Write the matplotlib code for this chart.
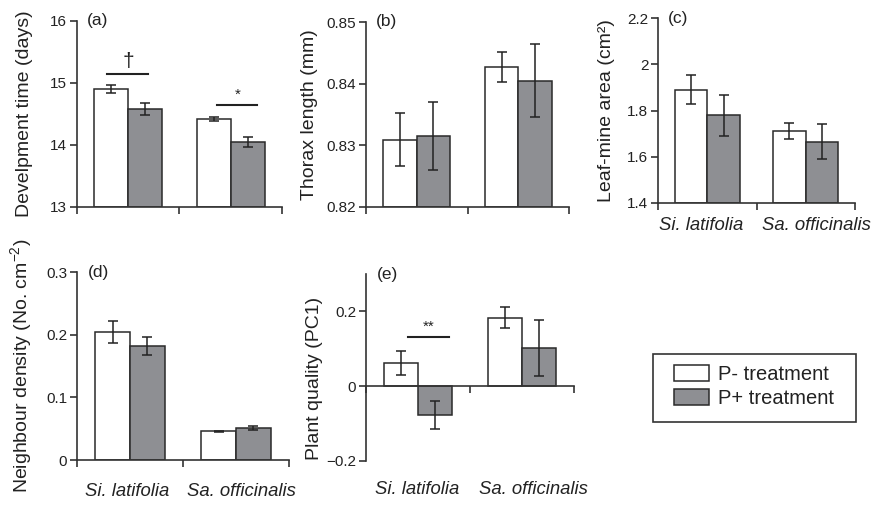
import matplotlib
matplotlib.use("Agg")
import matplotlib.pyplot as plt
import matplotlib.transforms as mtransforms
from matplotlib.patches import Patch, Rectangle

plt.rcParams['font.family'] = ['Liberation Sans', 'DejaVu Sans']
plt.rcParams['mathtext.fontset'] = 'custom'
plt.rcParams['mathtext.rm'] = 'Liberation Sans'
plt.rcParams['mathtext.it'] = 'Liberation Sans:italic'

# ---- data ----
species = ["Si. latifolia", "Sa. officinalis"]
treatments = ["P- treatment", "P+ treatment"]

dev_pminus = [14.90, 14.42]
dev_pminus_err = [0.06, 0.03]
dev_pplus = [14.58, 14.05]
dev_pplus_err = [0.09, 0.08]

thorax_pminus = [0.8309, 0.8427]
thorax_pminus_err = [0.0043, 0.0024]
thorax_pplus = [0.8315, 0.8405]
thorax_pplus_err = [0.0055, 0.0059]

mine_pminus = [1.89, 1.71]
mine_pminus_err = [0.062, 0.035]
mine_pplus = [1.78, 1.665]
mine_pplus_err = [0.089, 0.075]

dens_pminus = [0.204, 0.046]
dens_pminus_err = [0.018, 0.001]
dens_pplus = [0.182, 0.051]
dens_pplus_err = [0.015, 0.003]

qual_pminus = [0.061, 0.183]
qual_pminus_err = [0.032, 0.0285]
qual_pplus = [-0.077, 0.102]
qual_pplus_err = [0.037, 0.076]

ticks_a = [13, 14, 15, 16]
ticks_b = [0.82, 0.83, 0.84, 0.85]
ticklabels_b = ["0.82", "0.83", "0.84", "0.85"]
ticks_c = [1.4, 1.6, 1.8, 2.0, 2.2]
ticklabels_c = ["1.4", "1.6", "1.8", "2", "2.2"]
ticks_d = [0, 0.1, 0.2, 0.3]
ticklabels_d = ["0", "0.1", "0.2", "0.3"]
ticks_e = [-0.2, 0, 0.2]
ticklabels_e = ["\u22120.2", "0", "0.2"]

W, H = 874, 505
fig = plt.figure(figsize=(W / 100, H / 100), dpi=100)

TXT = "#222222"
WHITE = "#ffffff"
GRAY = "#8e8f93"
EDGE = "#2a2a2a"

def add_ax(l, r, t, b):
    return fig.add_axes([l / W, 1 - b / H, (r - l) / W, (b - t) / H])

def style(ax, ylim, ticks, ticklabels, ylabel, label_right_px, left_px, width_px, panel, ylab_y=0.5):
    ax.set_xlim(0, 2)
    ax.set_ylim(*ylim)
    for s in ["top", "right"]:
        ax.spines[s].set_visible(False)
    for s in ["left", "bottom"]:
        ax.spines[s].set_linewidth(1.2)
        ax.spines[s].set_color("#333333")
    ax.set_xticks([0, 1, 2])
    ax.set_xticklabels([])
    ax.set_yticks(ticks)
    ax.set_yticklabels(ticklabels)
    ax.tick_params(axis="both", direction="out", length=5, width=1.2, color="#333333",
                   labelsize=11, labelcolor=TXT, pad=2)
    ax.set_ylabel(ylabel, fontsize=14, color=TXT)
    ax.yaxis.set_label_coords((label_right_px - left_px) / width_px, ylab_y)
    ax.text(0.05, 1.0, panel, transform=ax.transAxes, fontsize=12.5, color=TXT,
            ha="left", va="center")

def bars(ax, pm, pme, pp, ppe, base=0):
    x = [0.5, 1.5]
    w = 0.33
    kw = dict(ecolor="#222222", capsize=3.6, error_kw=dict(elinewidth=1.1, capthick=1.1),
              edgecolor=EDGE, linewidth=1.1, bottom=base)
    ax.bar([xi - w / 2 for xi in x], [v - base for v in pm], w, yerr=pme, color=WHITE, **kw)
    ax.bar([xi + w / 2 for xi in x], [v - base for v in pp], w, yerr=ppe, color=GRAY, **kw)

def cat_labels(ax, y_px, xs):
    tr = mtransforms.blended_transform_factory(ax.transData, fig.transFigure)
    for xi, name in zip(xs, species):
        ax.text(xi, 1 - y_px / H, name, transform=tr, fontsize=13.3, style="italic",
                color=TXT, ha="center", va="center")

# (a)
ax = add_ax(77, 282, 21, 207)
bars(ax, dev_pminus, dev_pminus_err, dev_pplus, dev_pplus_err, base=13)
style(ax, (13, 16), ticks_a, [str(t) for t in ticks_a], "Develpment time (days)", 33, 77, 205, "(a)")
ax.plot([0.29, 0.69], [15.15, 15.15], color="#222222", lw=1.5)
ax.text(0.5, 15.2, "\u2020", ha="center", va="bottom", fontsize=15, color=TXT)
ax.plot([1.37, 1.76], [14.65, 14.65], color="#222222", lw=1.5)
ax.text(1.57, 14.7, "*", ha="center", va="bottom", fontsize=11, color=TXT)

# (b)
ax = add_ax(366, 569, 22, 207)
bars(ax, thorax_pminus, thorax_pminus_err, thorax_pplus, thorax_pplus_err, base=0.82)
style(ax, (0.82, 0.85), ticks_b, ticklabels_b, "Thorax length (mm)", 318, 366, 203, "(b)")

# (c)
ax = add_ax(658, 855, 18, 203)
bars(ax, mine_pminus, mine_pminus_err, mine_pplus, mine_pplus_err, base=1.4)
style(ax, (1.4, 2.2), ticks_c, ticklabels_c, "Leaf-mine area (cm\u00b2)", 615, 658, 197, "(c)")
cat_labels(ax, 226, [0.44, 1.61])

# (d)
ax = add_ax(77, 289, 272, 460)
bars(ax, dens_pminus, dens_pminus_err, dens_pplus, dens_pplus_err)
style(ax, (0, 0.3), ticks_d, ticklabels_d, "Neighbour density (No. cm$^{-2}$)", 34, 77, 212, "(d)")
cat_labels(ax, 492, [0.476, 1.55])

# (e)
ax = add_ax(366, 574, 274, 461)
bars(ax, qual_pminus, qual_pminus_err, qual_pplus, qual_pplus_err)
style(ax, (-0.2, 0.3), ticks_e, ticklabels_e, "Plant quality (PC1)", 323, 366, 208, "(e)", ylab_y=0.44)
ax.spines["bottom"].set_position(("data", 0))
ax.plot([0.4, 0.8], [0.1325, 0.1325], color="#222222", lw=1.5)
ax.text(0.6, 0.14, "**", ha="center", va="bottom", fontsize=11, color=TXT)
cat_labels(ax, 490, [0.49, 1.61])

# legend
fig.patches.append(Rectangle((653 / W, 1 - 422 / H), (856 - 653) / W, (422 - 354) / H,
                             transform=fig.transFigure, facecolor="none",
                             edgecolor="#333333", linewidth=1.2))
handles = [Patch(facecolor=WHITE, edgecolor=EDGE, linewidth=1.1),
           Patch(facecolor=GRAY, edgecolor=EDGE, linewidth=1.1)]
leg = fig.legend(handles, treatments, loc="upper left",
                 bbox_to_anchor=(674 / W, 1 - 365 / H), fontsize=14.5,
                 frameon=False,
                 handlelength=1.74, handleheight=0.85, handletextpad=0.45,
                 labelspacing=0.25, borderpad=0, borderaxespad=0)
for t in leg.get_texts():
    t.set_color(TXT)

fig.savefig("out.png", dpi=100)
